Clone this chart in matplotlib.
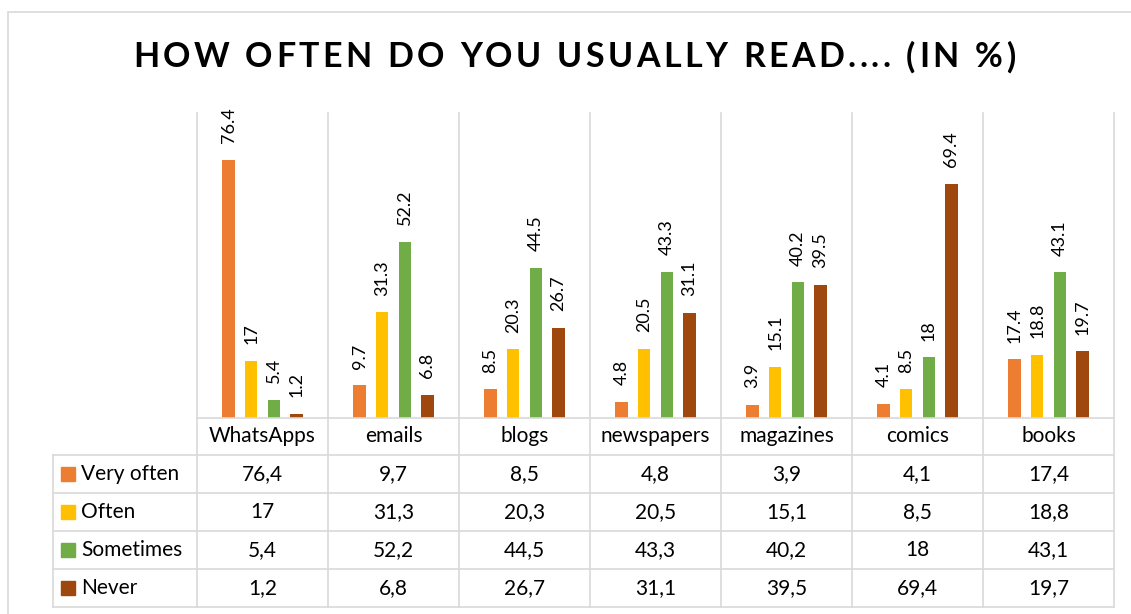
import numpy as np
import matplotlib.pyplot as plt
from matplotlib.transforms import blended_transform_factory
from matplotlib.lines import Line2D
from matplotlib.patches import Rectangle

plt.rcParams['font.family'] = ['Lato', 'DejaVu Sans']

categories = ["WhatsApps", "emails", "blogs", "newspapers", "magazines", "comics", "books"]
series = ["Very often", "Often", "Sometimes", "Never"]
very_often = [76.4, 9.7, 8.5, 4.8, 3.9, 4.1, 17.4]
often = [17, 31.3, 20.3, 20.5, 15.1, 8.5, 18.8]
sometimes = [5.4, 52.2, 44.5, 43.3, 40.2, 18, 43.1]
never = [1.2, 6.8, 26.7, 31.1, 39.5, 69.4, 19.7]
colors = ["#ED7D31", "#FFC000", "#70AD47", "#9E480E"]
values = [very_often, often, sometimes, never]
title = "HOW OFTEN DO YOU USUALLY READ.... (IN %)"

GRID = "#D9D9D9"
W, H = 1131, 614
fig = plt.figure(figsize=(W / 100, H / 100), dpi=100)


def fx(px):
    return px / W


def fy(py):
    return 1 - py / H


# outer chart frame
fig.add_artist(Rectangle((fx(8), fy(640)), fx(1140) - fx(8), fy(12) - fy(640),
                         transform=fig.transFigure, fill=False, ec=GRID, lw=1.2))

# letter-spaced title: place each character, spreading them over a fixed span
renderer = fig.canvas.get_renderer()
t_left, t_right = 133, 1015
chars = []
for ch in title:
    t = fig.text(0, fy(57), ch, ha="left", va="center", fontsize=24.5,
                 fontweight="bold", color="black")
    chars.append((t, t.get_window_extent(renderer).width if ch != " " else None))
space_w = 9.0
widths = [w if w is not None else space_w for _, w in chars]
gap = (t_right - t_left - sum(widths)) / (len(chars) - 1)
cur = t_left
for (t, _), w in zip(chars, widths):
    t.set_x(fx(cur))
    cur += w + gap

base_px, top_px = 418, 113
ax = fig.add_axes([fx(197), fy(base_px), fx(1114) - fx(197), fy(top_px) - fy(base_px)])
ax.set_xlim(-0.5, len(categories) - 0.5)
ax.set_ylim(0, 90.3)
ax.axis("off")

x = np.arange(len(categories))
width, step = 0.092, 0.173
for k, (vals, col) in enumerate(zip(values, colors)):
    pos = x + (k - 1.5) * step
    ax.bar(pos, vals, width=width, color=col, zorder=3)
    for xp, v in zip(pos, vals):
        ax.annotate(f"{v:g}", (xp, v), xytext=(0, 12), textcoords="offset points",
                    rotation=90, ha="center", va="bottom", fontsize=13)

# table below the bars: x follows the category axis, y in figure pixels
tr = blended_transform_factory(ax.transData, fig.transFigure)
row_h = 38
head_bottom = 455
rows_bottom = head_bottom + row_h * len(series)
left_px = 53

for i in range(len(categories) + 1):
    xb = i - 0.5
    fig.add_artist(Line2D([xb, xb], [fy(top_px), fy(rows_bottom)], transform=tr,
                          color=GRID, lw=1.2))
fig.add_artist(Line2D([fx(left_px), fx(left_px)], [fy(head_bottom), fy(rows_bottom)],
                      transform=fig.transFigure, color=GRID, lw=1.2))
fig.add_artist(Line2D([fx(197), fx(1114)], [fy(base_px), fy(base_px)],
                      transform=fig.transFigure, color=GRID, lw=1.2))
for r in range(len(series) + 1):
    yy = fy(head_bottom + r * row_h)
    fig.add_artist(Line2D([fx(left_px), fx(1114)], [yy, yy],
                          transform=fig.transFigure, color=GRID, lw=1.2))

for i, cat in enumerate(categories):
    fig.text(i, fy((base_px + head_bottom) / 2), cat, transform=tr,
             ha="center", va="center", fontsize=15)

for r, (name, vals, col) in enumerate(zip(series, values, colors)):
    yc = fy(head_bottom + r * row_h + row_h / 2)
    fig.add_artist(Rectangle((fx(61), yc - 7 / H), 14 / W, 14 / H,
                             transform=fig.transFigure, color=col))
    fig.text(fx(81), yc, name, ha="left", va="center", fontsize=15)
    for i, v in enumerate(vals):
        fig.text(i, yc, f"{v:g}".replace(".", ","), transform=tr,
                 ha="center", va="center", fontsize=15)

fig.savefig("out.png", dpi=100, facecolor="white")
